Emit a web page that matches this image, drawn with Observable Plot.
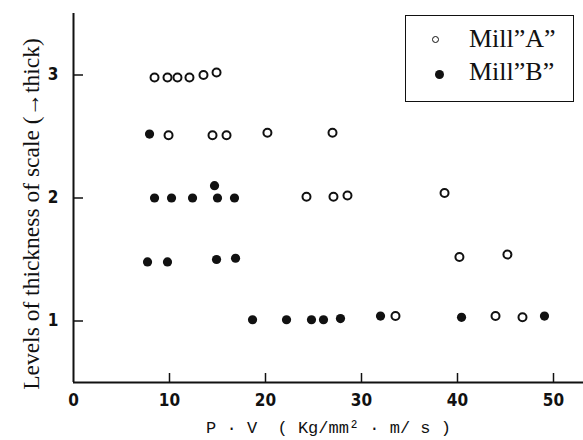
<!DOCTYPE html>
<html><head><meta charset="utf-8">
<script src="https://cdn.jsdelivr.net/npm/d3@7"></script>
<script src="https://cdn.jsdelivr.net/npm/@observablehq/plot@0.6"></script>
<style>
body{margin:0;background:#fff}
#wrap{position:relative;width:583px;height:440px;background:#fff}
.legend{position:absolute;left:405px;top:15px;width:169px;height:87px;border:1.5px solid #111;box-sizing:border-box;font-family:"Liberation Serif","DejaVu Serif",serif;font-size:26px;color:#111}
.legend .t{position:absolute;left:63px;line-height:26px;white-space:nowrap}
.legend .m{position:absolute;border-radius:50%;box-sizing:border-box}
</style></head>
<body><div id="wrap"></div>
<script>
// Data
const xTicks = [0, 10, 20, 30, 40, 50];
const yTicks = [1, 2, 3];
const seriesNames = ['Mill\u201dA\u201d', 'Mill\u201dB\u201d'];
const millA_x = [8.44, 9.79, 10.83, 12.08, 13.54, 14.90,
                 9.90, 14.48, 15.94, 20.2, 26.98,
                 24.27, 27.08, 28.54, 38.65,
                 40.2, 45.2,
                 33.54, 43.96, 46.77];
const millA_y = [2.98, 2.98, 2.98, 2.98, 3.00, 3.02,
                 2.51, 2.51, 2.51, 2.53, 2.53,
                 2.01, 2.01, 2.02, 2.04,
                 1.52, 1.54,
                 1.04, 1.04, 1.03];
const millB_x = [7.92,
                 8.44, 10.21, 12.40, 15.0, 16.77, 14.69,
                 7.71, 9.79, 14.9, 16.88,
                 18.65, 22.19, 24.79, 26.04, 27.81, 31.98, 40.42, 49.06];
const millB_y = [2.52,
                 2.00, 2.00, 2.00, 2.00, 2.00, 2.10,
                 1.48, 1.48, 1.50, 1.51,
                 1.01, 1.01, 1.01, 1.01, 1.02, 1.04, 1.03, 1.04];
const xLabel = "P · V  ( Kg/mm² · m/ s )";
const yLabel = "Levels of thickness of scale (\u2192thick)";

const millA = millA_x.map((x, i) => ({x, y: millA_y[i]}));
const millB = millB_x.map((x, i) => ({x, y: millB_y[i]}));

const W = 583, H = 440, mL = 73, mR = 0, mT = 13, mB = 58;
const xDom = [0, 53.125], yDom = [0.5, 3.5];
const plotW = W - mL - mR, plotH = H - mT - mB;
const xTickLen = 9 * (yDom[1] - yDom[0]) / plotH;   // 9px in y-units
const yTickLen = 10 * (xDom[1] - xDom[0]) / plotW;  // 10px in x-units
const ink = "#111";
const tickFont = '"DejaVu Sans Condensed","Liberation Sans Narrow","DejaVu Sans",sans-serif';

const chart = Plot.plot({
  width: W, height: H,
  marginLeft: mL, marginRight: mR, marginTop: mT, marginBottom: mB,
  x: {domain: xDom},
  y: {domain: yDom},
  style: {background: "white", color: ink, overflow: "visible"},
  marks: [
    Plot.axisX(xTicks, {tickSize: 0, tickPadding: 11, fontSize: 17, fontFamily: tickFont, fontWeight: "bold", tickFormat: d => String(d), label: null}),
    Plot.axisY(yTicks, {tickSize: 0, tickPadding: 15, fontSize: 17, fontFamily: tickFont, fontWeight: "bold", tickFormat: d => String(d), label: null}),
    Plot.ruleX(xTicks.filter(d => d > 0), {x: d => d, y1: yDom[0], y2: yDom[0] + xTickLen, stroke: ink, strokeWidth: 1.5}),
    Plot.ruleY(yTicks, {y: d => d, x1: xDom[0], x2: xDom[0] + yTickLen, stroke: ink, strokeWidth: 1.5}),
    Plot.ruleX([xDom[0]], {stroke: ink, strokeWidth: 2}),
    Plot.ruleY([yDom[0]], {stroke: ink, strokeWidth: 2}),
    Plot.dot(millA, {x: "x", y: "y", r: 4, stroke: ink, strokeWidth: 2, fill: "white"}),
    Plot.dot(millB, {x: "x", y: "y", r: 4.6, fill: ink, stroke: "none"}),
    Plot.text([yLabel], {frameAnchor: "left", textAnchor: "middle", lineAnchor: "middle", rotate: -90, dx: -42, dy: 16, fontSize: 23.5, fontFamily: '"Liberation Serif","DejaVu Serif",serif', fill: ink}),
    Plot.text([xLabel], {frameAnchor: "bottom", dy: 50, fontSize: 17, fontFamily: '"Liberation Mono","DejaVu Sans Mono",monospace', fill: ink})
  ]
});

const wrap = document.getElementById("wrap");
wrap.appendChild(chart);

const legend = document.createElement("div");
legend.className = "legend";
legend.innerHTML =
  `<div class="m" style="left:25.5px;top:19.5px;width:7px;height:7px;border:1.5px solid ${ink};background:#fff"></div>` +
  `<div class="t" style="top:10px">${seriesNames[0]}</div>` +
  `<div class="m" style="left:28.5px;top:53.5px;width:9px;height:9px;background:${ink}"></div>` +
  `<div class="t" style="top:43px">${seriesNames[1]}</div>`;
wrap.appendChild(legend);
</script>
</body></html>
